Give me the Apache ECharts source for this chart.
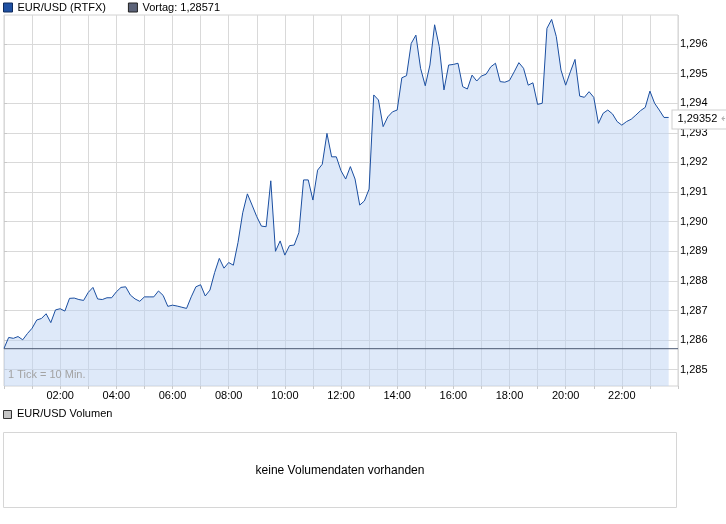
<!DOCTYPE html>
<html><head><meta charset="utf-8">
<script src="https://cdn.jsdelivr.net/npm/echarts@6/dist/echarts.min.js"></script>
<style>html,body{margin:0;padding:0;background:#fff}#c{width:726px;height:524px}</style>
</head><body><div id="c"></div>
<script>
const seriesName = 'EUR/USD (RTFX)';
const prevClose = 1.28571;
const lastPrice = 1.29352;
const startTime = '00:00';
const stepMinutes = 10;
const axisEndTime = '24:00';
const prices = [
  1.28572,1.28609,1.28606,1.28612,1.28601,1.28622,1.28640,1.28668,1.28673,1.28689,
  1.28659,1.28702,1.28706,1.28698,1.28741,1.28742,1.28737,1.28734,1.28761,1.28778,
  1.28739,1.28737,1.28743,1.28743,1.28763,1.28778,1.28780,1.28752,1.28739,1.28731,
  1.28746,1.28746,1.28746,1.28766,1.28751,1.28714,1.28718,1.28715,1.28711,1.28707,
  1.28746,1.28780,1.28787,1.28749,1.28769,1.28828,1.28876,1.28843,1.28862,1.28853,
  1.28930,1.29030,1.29094,1.29056,1.29017,1.28985,1.28983,1.29138,1.28900,1.28935,
  1.28887,1.28919,1.28921,1.28963,1.29141,1.29141,1.29073,1.29174,1.29194,1.29298,
  1.29219,1.29219,1.29172,1.29144,1.29186,1.29144,1.29056,1.29070,1.29110,1.29428,
  1.29411,1.29321,1.29354,1.29371,1.29377,1.29486,1.29493,1.29602,1.29630,1.29518,
  1.29459,1.29529,1.29665,1.29591,1.29445,1.29529,1.29531,1.29535,1.29456,1.29448,
  1.29495,1.29475,1.29492,1.29498,1.29523,1.29535,1.29473,1.29471,1.29477,1.29506,
  1.29537,1.29518,1.29461,1.29469,1.29396,1.29400,1.29653,1.29683,1.29625,1.29512,
  1.29461,1.29506,1.29548,1.29424,1.29420,1.29439,1.29420,1.29332,1.29366,1.29377,
  1.29364,1.29338,1.29326,1.29338,1.29346,1.29360,1.29375,1.29386,1.29441,1.29400,
  1.29377,1.29352,1.29352
];
const yTicks = [1.285,1.286,1.287,1.288,1.289,1.290,1.291,1.292,1.293,1.294,1.295,1.296];
const xLabels = ['02:00','04:00','06:00','08:00','10:00','12:00','14:00','16:00','18:00','20:00','22:00'];
const volumeTitle = 'EUR/USD Volumen';
const volumeNote = 'keine Volumendaten vorhanden';
const tickNote = '1 Tick = 10 Min.';

const FONT = 'Liberation Sans';
const fmt = (v, d) => v.toFixed(d).replace('.', ',');
const toMin = s => { const p = s.split(':').map(Number); return p[0] * 60 + p[1]; };
const start = toMin(startTime);
const axisEnd = toMin(axisEndTime);
const xLabelMinutes = xLabels.map(toMin);
const data = prices.map((p, i) => [start + i * stepMinutes, p]);
const vortagName = 'Vortag: ' + fmt(prevClose, 5);

const chart = echarts.init(document.getElementById('c'), null, {renderer: 'canvas'});
chart.setOption({
  animation: false,
  textStyle: {fontFamily: FONT},
  legend: {
    left: 3, top: 2, padding: 0, itemWidth: 9, itemHeight: 9, itemGap: 22, icon: 'rect',
    selectedMode: false,
    textStyle: {fontFamily: FONT, fontSize: 11, color: '#000'},
    data: [
      {name: seriesName, itemStyle: {color: '#1f50a2', borderColor: '#0e2a5c', borderWidth: 1}},
      {name: vortagName, itemStyle: {color: '#5c6379', borderColor: '#222', borderWidth: 1}}
    ]
  },
  grid: {left: 4, right: 48, top: 15, bottom: 138, show: true, borderColor: '#d2d2d2', borderWidth: 1, containLabel: false},
  xAxis: {
    type: 'value', min: start, max: axisEnd, interval: 60,
    axisLine: {show: false},
    axisTick: {show: true, length: 3, lineStyle: {color: '#c8c8c8'}},
    splitLine: {show: true, lineStyle: {color: '#d9d9d9', width: 1}},
    axisLabel: {
      margin: 4, fontSize: 11, color: '#000', fontFamily: FONT,
      formatter: v => { const i = xLabelMinutes.indexOf(v); return i >= 0 ? xLabels[i] : ''; }
    }
  },
  yAxis: {
    type: 'value', position: 'right', min: 1.28445, max: 1.29698, scale: true,
    axisLine: {show: false},
    axisTick: {show: true, length: 3, customValues: yTicks, lineStyle: {color: '#c8c8c8'}},
    splitLine: {show: true, lineStyle: {color: '#d9d9d9', width: 1}},
    axisLabel: {
      customValues: yTicks, margin: 2, fontSize: 11, color: '#000', fontFamily: FONT,
      formatter: v => fmt(v, 3)
    }
  },
  series: [
    {
      name: seriesName, type: 'line', data: data, symbol: 'none', showSymbol: false, clip: false,
      lineStyle: {color: '#1a4ea0', width: 1}, itemStyle: {color: '#1f50a2'},
      areaStyle: {color: 'rgba(189,211,243,0.5)', opacity: 1, origin: 'start'},
      z: 3,
      markPoint: {
        silent: true, animation: false, symbol: 'rect', symbolSize: 1,
        itemStyle: {color: 'rgba(0,0,0,0)'},
        label: {
          show: true, position: 'right', distance: 0, offset: [-6, 2],
          formatter: '{v|' + fmt(lastPrice, 5) + '} {a|⇠}',
          backgroundColor: '#fff', borderColor: '#cfcfcf', borderWidth: 1, padding: [3, 4, 3, 5],
          rich: {v: {fontSize: 11, color: '#000', fontFamily: FONT}, a: {fontSize: 11, color: '#b0b0b0', fontFamily: FONT}}
        },
        data: [{coord: [axisEnd, lastPrice]}]
      }
    },
    {
      name: vortagName, type: 'line', symbol: 'none', showSymbol: false, z: 4,
      data: [[start, prevClose], [axisEnd, prevClose]],
      lineStyle: {color: '#4b5870', width: 1}, itemStyle: {color: '#5c6379'}
    }
  ],
  graphic: [
    {type: 'text', left: 8, top: 369, style: {text: tickNote, fill: '#a3a3a3', font: '11px "Liberation Sans"'}, z: 10},
    {type: 'rect', shape: {x: 3.5, y: 410.5, width: 8, height: 8}, style: {fill: '#c4c4c4', stroke: '#333', lineWidth: 1}},
    {type: 'text', left: 17, top: 408, style: {text: volumeTitle, fill: '#000', font: '11px "Liberation Sans"'}},
    {type: 'rect', shape: {x: 3.5, y: 432.5, width: 673, height: 75}, style: {fill: 'none', stroke: '#d6d6d6', lineWidth: 1}},
    {type: 'text', x: 340, y: 471, style: {text: volumeNote, fill: '#000', font: '12px "Liberation Sans"', textAlign: 'center', textVerticalAlign: 'middle'}}
  ]
});
</script></body></html>
